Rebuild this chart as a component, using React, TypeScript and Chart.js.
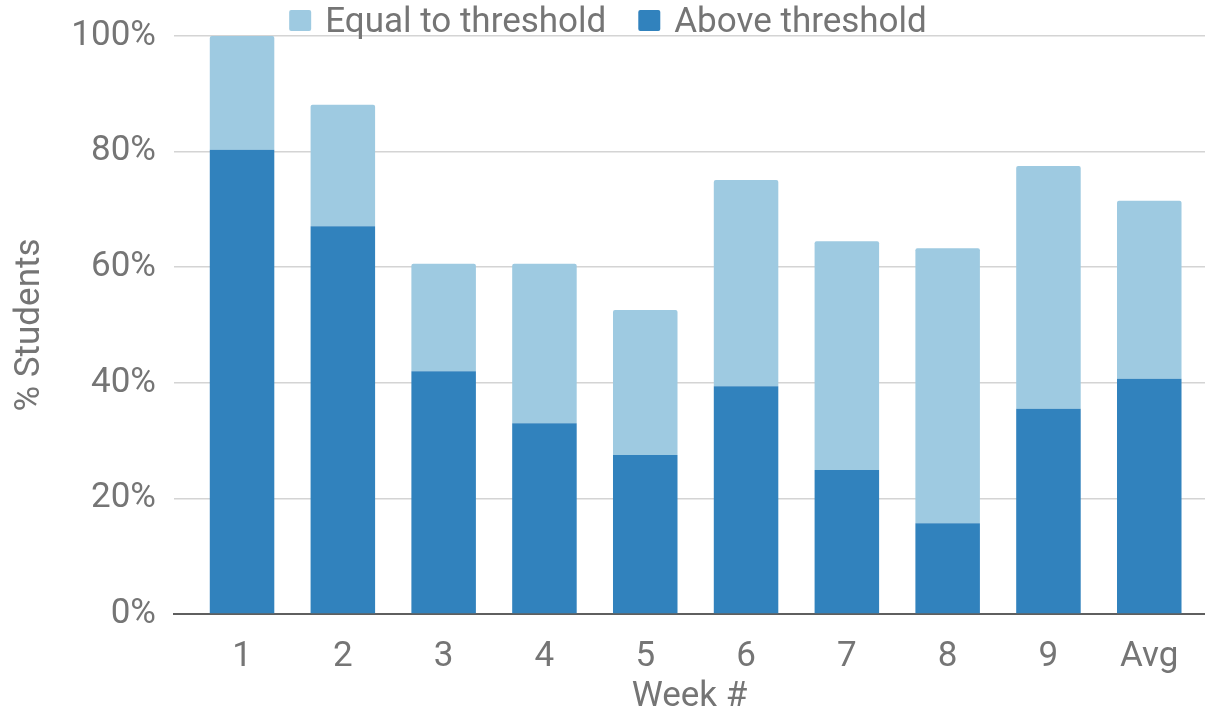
import { useEffect, useRef } from 'react';
import { Chart, registerables } from 'chart.js';

Chart.register(...registerables);

const categories = ['1', '2', '3', '4', '5', '6', '7', '8', '9', 'Avg'];
const aboveThreshold = [80.3, 67.1, 42.0, 33.0, 27.5, 39.4, 24.9, 15.7, 35.5, 40.7];
const equalToThreshold = [19.7, 21.0, 18.6, 27.6, 25.1, 35.7, 39.6, 47.6, 42.0, 30.8];
const seriesLabels = ['Above threshold', 'Equal to threshold'];
const seriesColors = ['#3182bd', '#9ecae1'];

const FONT = 'Roboto';
const TEXT = '#757575';
const SIZE = 35;

const legendPlugin = {
  id: 'topLegend',
  afterDraw(chart: any) {
    const ctx = chart.ctx as CanvasRenderingContext2D;
    const items = chart.data.datasets
      .map((d: any) => ({ text: d.label as string, color: d.backgroundColor as string }))
      .reverse();
    ctx.save();
    ctx.font = `${SIZE}px ${FONT}`;
    const box = 22;
    const gapText = 14;
    const gapItem = 32;
    const widths = items.map((it: any) => box + gapText + ctx.measureText(it.text).width);
    const total = widths.reduce((a: number, b: number) => a + b, 0) + gapItem * (items.length - 1);
    let x = 608 - total / 2;
    items.forEach((it: any, i: number) => {
      ctx.fillStyle = it.color;
      ctx.beginPath();
      (ctx as any).roundRect(x, 10, box, 21, 2);
      ctx.fill();
      ctx.fillStyle = TEXT;
      ctx.textBaseline = 'alphabetic';
      ctx.textAlign = 'left';
      ctx.fillText(it.text, x + box + gapText, 32);
      x += widths[i] + gapItem;
    });
    ctx.restore();
  },
};

export default function App() {
  const ref = useRef<HTMLCanvasElement | null>(null);

  useEffect(() => {
    document.body.style.margin = '0';
    let chart: Chart | null = null;
    let cancelled = false;
    const make = () => {
      if (cancelled || !ref.current) return;
      const font = { family: FONT, size: SIZE };
      chart = new Chart(ref.current, {
        type: 'bar',
        data: {
          datasets: [
            {
              label: seriesLabels[0],
              data: aboveThreshold.map((y, i) => ({ x: i + 1, y })),
              backgroundColor: seriesColors[0],
              stack: 's',
              barPercentage: 0.64,
              categoryPercentage: 1,
            },
            {
              label: seriesLabels[1],
              data: equalToThreshold.map((y, i) => ({ x: i + 1, y })),
              backgroundColor: seriesColors[1],
              stack: 's',
              barPercentage: 0.64,
              categoryPercentage: 1,
              borderRadius: { topLeft: 2, topRight: 2, bottomLeft: 0, bottomRight: 0 },
            },
          ] as any,
        },
        options: {
          responsive: false,
          animation: false,
          layout: { padding: { top: 36, left: 0, right: 0, bottom: 0 } },
          plugins: {
            legend: { display: false },
            tooltip: { enabled: false },
          },
          scales: {
            x: {
              type: 'linear',
              min: 0.325,
              max: 10.553,
              offset: false,
              grid: { display: false, drawTicks: false },
              border: { display: true, color: '#5f5f5f', width: 2 },
              afterBuildTicks: (scale: any) => {
                scale.ticks = categories.map((_, i) => ({ value: i + 1 }));
              },
              afterFit: (scale: any) => {
                scale.height = 96;
              },
              ticks: {
                font,
                color: TEXT,
                padding: 22,
                autoSkip: false,
                maxRotation: 0,
                callback: (v: any) => categories[Number(v) - 1] ?? '',
              },
              title: {
                display: true,
                text: 'Week #',
                font,
                color: TEXT,
                padding: { top: 0, bottom: -8 },
              },
            },
            y: {
              stacked: true,
              min: 0,
              max: 100,
              grid: { color: '#d4d4d4', lineWidth: 1.5, drawTicks: false },
              border: { display: false },
              afterFit: (scale: any) => {
                scale.width = 174;
                scale.paddingTop = 0;
                scale.paddingBottom = 0;
              },
              ticks: {
                stepSize: 20,
                font,
                color: TEXT,
                padding: 18,
                callback: (v: any) => `${v}%`,
              },
              title: {
                display: true,
                text: '% Students',
                font,
                color: TEXT,
                padding: { top: 9, bottom: 0 },
              },
            },
          },
        } as any,
        plugins: [legendPlugin],
      });
    };
    const fl = (document as any).fonts;
    if (fl && fl.load) {
      fl.load(`${SIZE}px ${FONT}`).then(make, make);
    } else {
      make();
    }
    return () => {
      cancelled = true;
      if (chart) chart.destroy();
    };
  }, []);

  return (
    <div style={{ width: 1205, height: 710 }}>
      <canvas ref={ref} width={1205} height={710} />
    </div>
  );
}
